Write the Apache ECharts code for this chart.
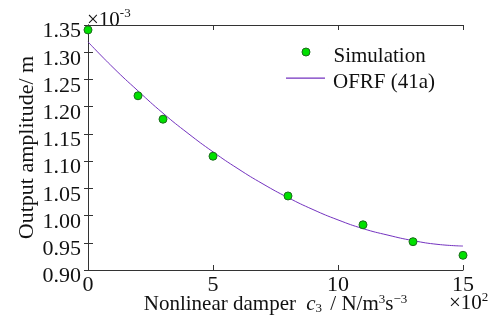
<!DOCTYPE html>
<html>
<head>
<meta charset="utf-8">
<script src="https://cdn.jsdelivr.net/npm/echarts@6/dist/echarts.min.js"></script>
<style>
  html, body { margin: 0; padding: 0; background: #fff; }
  #main { width: 501px; height: 322px; }
</style>
</head>
<body>
<div id="main"></div>
<script>
// simulation points (c3 in x10^2, amplitude in x10^-3 m)
const simX = [0, 2, 3, 5, 8, 11, 13, 15]
const simY = [1.341, 1.220, 1.177, 1.109, 1.036, 0.983, 0.952, 0.927]

// OFRF curve
const ofrfX = [0, 1, 2, 3, 4, 5, 6, 7, 8, 9, 10, 11, 12, 13, 14, 15]
const ofrfY = [1.319, 1.272, 1.229, 1.188, 1.151, 1.117, 1.086, 1.058, 1.033, 1.011, 0.992, 0.976, 0.964, 0.954, 0.947, 0.944]

const xTicks = [0, 5, 10, 15]
const yTicks = [0.90, 0.95, 1.00, 1.05, 1.10, 1.15, 1.20, 1.25, 1.30, 1.35]

const font = 'Liberation Serif'
const ink = '#111'
const axisColor = '#333'
const purple = '#7433c0'

// legend icons: mark sits above the box centre so the text lands a little lower
const simIcon = 'path://M15.5,4A4,4,0,1,1,23.5,4A4,4,0,1,1,15.5,4Z M0,17L0.01,17 M42,0L42.01,0'
const ofrfIcon = 'path://M0,0L39,0L39,1.3L0,1.3Z M42,10L42.01,10'

const chartDom = document.getElementById('main')
const myChart = echarts.init(chartDom, null, { renderer: 'canvas' })

const axisLineStyle = { show: true, lineStyle: { color: axisColor, width: 1 } }
const tickStyle = { show: true, inside: true, length: 5, lineStyle: { color: axisColor } }
const legendText = { fontFamily: font, fontSize: 21, color: ink, lineHeight: 21 }

let option = {
  animation: false,
  backgroundColor: '#fff',
  grid: { left: 88, right: 38, top: 25, bottom: 52, containLabel: false, outerBoundsMode: 'none' },
  legend: [
    {
      left: 286, top: 46, padding: 0,
      itemWidth: 42, itemHeight: 17,
      textStyle: legendText,
      data: [{ name: 'Simulation', icon: simIcon, itemStyle: { color: '#00e000', borderColor: '#1d6b1d', borderWidth: 1 } }]
    },
    {
      left: 286, top: 72, padding: 0,
      itemWidth: 42, itemHeight: 10,
      textStyle: legendText,
      data: [{ name: 'OFRF (41a)', icon: ofrfIcon, itemStyle: { color: purple, borderWidth: 0 } }]
    }
  ],
  xAxis: [
    {
      type: 'value', min: 0, max: 15, interval: 5,
      axisLine: axisLineStyle, axisTick: tickStyle, splitLine: { show: false },
      axisLabel: { fontFamily: font, fontSize: 22, color: ink, margin: 4,
        customValues: xTicks, formatter: v => String(v) },
      name: '{t|Nonlinear damper }{it|c}{sub|3}{t| / N/m}{sup|3}{t|s}{sup|−3}',
      nameLocation: 'middle', nameGap: 23, nameMoveOverlap: false,
      nameTextStyle: {
        rich: {
          t: { fontFamily: font, fontSize: 21, color: ink, lineHeight: 22 },
          it: { fontFamily: font, fontSize: 21, color: ink, fontStyle: 'italic', lineHeight: 22, padding: [0, 0, 0, 5] },
          sub: { fontFamily: font, fontSize: 13, color: ink, verticalAlign: 'bottom', lineHeight: 10, padding: [0, 3, 0, 0] },
          sup: { fontFamily: font, fontSize: 13, color: ink, verticalAlign: 'top', lineHeight: 12 }
        }
      }
    },
    {
      type: 'value', position: 'top', min: 0, max: 15, interval: 5,
      axisLine: axisLineStyle, axisTick: tickStyle, axisLabel: { show: false }, splitLine: { show: false }
    }
  ],
  yAxis: [
    {
      type: 'value', min: 0.90, max: 1.35, interval: 0.05,
      axisLine: axisLineStyle, axisTick: tickStyle, splitLine: { show: false },
      axisLabel: { fontFamily: font, fontSize: 22, color: ink, margin: 7, verticalAlign: 'top', lineHeight: 13,
        customValues: yTicks, formatter: v => v.toFixed(2) },
      name: 'Output amplitude/ m',
      nameLocation: 'middle', nameGap: 50, nameMoveOverlap: false,
      nameTextStyle: { fontFamily: font, fontSize: 22, color: ink }
    },
    {
      type: 'value', position: 'right', min: 0.90, max: 1.35, interval: 0.05,
      axisLine: axisLineStyle, axisTick: { show: true, inside: true, length: 4, lineStyle: { color: axisColor } },
      axisLabel: { show: false }, splitLine: { show: false }
    }
  ],
  graphic: [
    {
      type: 'text', left: 87, top: 4,
      style: {
        text: '{a|×10}{b|-3}',
        rich: {
          a: { fontFamily: font, fontSize: 21, fill: ink, lineHeight: 21, padding: [6, 0, 0, 0] },
          b: { fontFamily: font, fontSize: 13, fill: ink, lineHeight: 13, verticalAlign: 'top' }
        }
      }
    },
    {
      type: 'text', left: 449, top: 289,
      style: {
        text: '{a|×10}{b|2}',
        rich: {
          a: { fontFamily: font, fontSize: 21, fill: ink, lineHeight: 21, padding: [4, 0, 0, 0] },
          b: { fontFamily: font, fontSize: 13, fill: ink, lineHeight: 13, verticalAlign: 'top' }
        }
      }
    }
  ],
  series: [
    {
      name: 'OFRF (41a)',
      type: 'line',
      smooth: true,
      symbol: 'none',
      data: ofrfX.map((x, i) => [x, ofrfY[i]]),
      lineStyle: { color: purple, width: 1 },
      itemStyle: { color: purple },
      z: 2
    },
    {
      name: 'Simulation',
      type: 'scatter',
      symbol: 'circle',
      symbolSize: 8,
      data: simX.map((x, i) => [x, simY[i]]),
      itemStyle: { color: '#00e000', borderColor: '#1d6b1d', borderWidth: 1, opacity: 1 },
      clip: false,
      z: 3
    }
  ]
}

option && myChart.setOption(option)
</script>
</body>
</html>
